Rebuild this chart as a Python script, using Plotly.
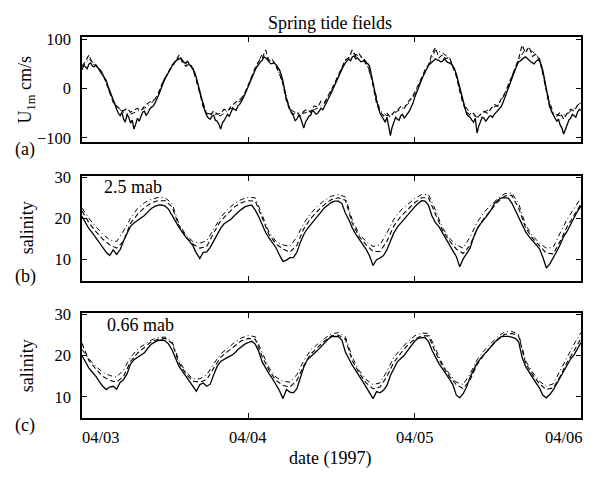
import pandas as pd
import plotly.graph_objects as go

# ---------------- data ----------------
START = pd.Timestamp("1997-04-03 00:00")
END = pd.Timestamp("1997-04-06 00:00")
U_SOLID_STEP_H = 0.25  # sampling of the solid velocity record (hours)
FINE_STEP_H = 0.5      # dashed velocity and solid salinity records
COARSE_STEP_H = 1.0    # the other records

TICK_DATES = ["1997-04-03", "1997-04-04", "1997-04-05", "1997-04-06"]
TICK_LABELS = ["04/03", "04/04", "04/05", "04/06"]

# (a) near-bed velocity U_1m, cm/s
U_SOLID = [38, 46, 44, 40, 50, 52, 45, 44, 48, 43, 38, 33, 28, 22, 16, 5, -5, -15, -25, -35,
           -42, -50, -55, -48, -62, -68, -52, -58, -70, -64, -82, -72, -60, -66, -55, -48, -46, -54, -50, -42,
           -38, -36, -30, -24, -15, -6, 5, 12, 20, 27, 33, 40, 46, 50, 56, 58, 60, 62, 57, 52,
           52, 55, 48, 46, 40, 33, 22, 8, -8, -22, -35, -46, -55, -60, -62, -56, -54, -64, -66, -72,
           -82, -70, -65, -58, -52, -56, -47, -40, -42, -44, -35, -32, -26, -20, -12, -4, 5, 14, 22, 30,
           38, 44, 50, 54, 57, 64, 62, 58, 56, 50, 51, 52, 48, 44, 38, 28, 15, -4, -22, -32,
           -42, -50, -55, -65, -62, -55, -58, -70, -80, -68, -62, -56, -54, -44, -47, -52, -50, -44, -40, -43,
           -36, -30, -25, -18, -8, 0, 8, 16, 24, 32, 40, 46, 52, 57, 60, 56, 64, 66, 60, 62,
           58, 54, 55, 58, 52, 50, 45, 30, 12, -6, -24, -38, -50, -56, -62, -68, -58, -74, -95, -78,
           -68, -58, -62, -64, -55, -52, -60, -54, -50, -45, -38, -30, -18, -8, 0, 9, 18, 26, 34, 41,
           47, 50, 54, 56, 60, 58, 57, 54, 55, 60, 57, 53, 52, 50, 46, 40, 30, 16, 2, -14,
           -30, -42, -52, -56, -58, -64, -68, -60, -90, -76, -66, -58, -60, -66, -62, -56, -55, -58, -52, -48,
           -46, -42, -36, -28, -18, -9, 0, 9, 18, 28, 38, 46, 54, 56, 60, 62, 64, 60, 57, 54,
           52, 50, 55, 58, 56, 48, 36, 18, -2, -20, -36, -46, -54, -60, -66, -62, -74, -80, -92, -82,
           -72, -64, -60, -52, -55, -58, -48, -42, -44]
U_DASH = [45, 55, 68, 50, 46, 40, 30, 12, -10, -28,
          -35, -42, -45, -40, -48, -44, -40, -45, -36, -30,
          -25, -22, -10, 8, 22, 36, 48, 55, 68, 52,
          45, 50, 38, 18, -12, -38, -50, -55, -45, -52,
          -50, -42, -46, -36, -30, -24, -20, -10, 8, 25,
          42, 55, 62, 78, 55, 58, 45, 30, 8, -25,
          -45, -52, -48, -55, -46, -42, -48, -35, -38, -25,
          -28, -15, 0, 12, 28, 45, 58, 62, 78, 65,
          70, 60, 50, 38, 5, -30, -48, -55, -50, -58,
          -48, -44, -36, -40, -28, -20, -8, 6, 22, 38,
          48, 70, 83, 62, 68, 60, 64, 44, 25, -5,
          -32, -48, -54, -50, -60, -52, -46, -50, -40, -32,
          -36, -20, -10, 6, 24, 42, 60, 88, 72, 85,
          65, 70, 58, 30, -8, -40, -52, -56, -48, -62,
          -50, -42, -46, -34, -30]
U_DASHDOT = [42, 60, 48, 32, -8, -38, -48, -52, -46, -40,
             -30, -12, 24, 45, 64, 50, 42, -10, -50, -52,
             -55, -45, -36, -22, 6, 40, 70, 58, 50, 10,
             -42, -50, -50, -45, -40, -30, -4, 26, 56, 72,
             66, 55, 10, -45, -55, -50, -42, -32, -12, 20,
             46, 78, 72, 62, 28, -30, -50, -58, -48, -40,
             -34, -12, 22, 58, 80, 75, 62, -5, -50, -55,
             -52, -40, -28]

# (b) salinity at 2.5 mab
SB_SOLID = [20.5, 19.0, 17.5, 16.5, 15.4, 14.2, 13.0, 11.8, 11.0, 12.4,
            11.3, 12.4, 14.6, 16.4, 18.1, 18.9, 19.5, 20.0, 20.7, 21.6,
            22.4, 22.9, 23.2, 23.3, 23.0, 22.2, 20.9, 19.3, 17.8, 16.5,
            15.4, 14.5, 13.4, 11.6, 10.3, 11.8, 11.9, 13.0, 14.6, 16.0,
            17.6, 18.7, 19.3, 19.8, 20.7, 21.5, 22.2, 22.8, 23.1, 23.2,
            22.0, 20.4, 18.5, 16.6, 15.2, 14.0, 12.9, 11.1, 9.6, 9.9,
            10.5, 10.5, 11.8, 14.2, 16.1, 17.5, 18.6, 19.6, 20.5, 21.6,
            22.6, 23.3, 23.9, 24.2, 24.2, 23.6, 21.3, 19.7, 17.7, 16.2,
            14.8, 13.7, 12.5, 10.9, 8.6, 10.0, 10.4, 11.0, 12.4, 14.5,
            16.5, 17.9, 18.9, 20.0, 21.0, 22.0, 22.8, 23.6, 24.3, 24.2,
            23.2, 20.6, 19.0, 18.0, 16.5, 14.9, 13.6, 12.2, 10.8, 8.3,
            10.2, 11.4, 12.8, 15.4, 17.4, 18.7, 19.7, 20.8, 22.0, 23.6,
            24.4, 25.0, 25.0, 24.9, 23.8, 22.0, 20.2, 18.7, 16.8, 15.6,
            14.6, 13.7, 12.7, 10.6, 8.0, 9.0, 10.4, 12.0, 13.7, 15.6,
            16.9, 18.5, 20.4, 21.8, 23.0]
SB_DASH = [21.8, 19.0, 16.8, 15.0, 13.6, 12.8, 14.5, 18.8, 21.0, 22.6,
           23.8, 24.3, 24.3, 22.8, 18.2, 15.6, 13.8, 12.8, 13.2, 16.5,
           19.4, 21.2, 22.8, 23.8, 24.3, 24.2, 20.0, 16.0, 13.8, 12.6,
           11.8, 13.5, 17.5, 20.0, 21.8, 23.4, 24.6, 25.0, 24.4, 18.8,
           15.6, 13.6, 12.0, 12.0, 14.5, 18.2, 20.5, 22.2, 23.8, 25.0,
           25.0, 21.0, 17.2, 14.6, 12.6, 11.5, 13.5, 17.5, 20.0, 22.0,
           24.0, 25.4, 25.6, 22.5, 17.8, 15.2, 13.4, 11.6, 11.4, 14.5,
           18.0, 20.6, 23.5]
SB_DASHDOT = [22.5, 20.0, 18.0, 16.2, 14.8, 14.4, 17.0, 20.0, 22.4, 23.8,
              24.6, 25.1, 25.0, 23.6, 18.6, 16.0, 14.4, 14.0, 14.6, 17.5,
              20.2, 22.2, 23.6, 24.6, 25.1, 25.0, 21.0, 16.6, 14.4, 13.6,
              13.2, 15.5, 18.8, 21.2, 23.0, 24.4, 25.4, 25.8, 25.2, 19.6,
              16.2, 14.4, 13.2, 13.6, 16.5, 19.8, 22.0, 23.5, 24.8, 25.8,
              25.8, 22.0, 17.8, 15.2, 13.6, 12.8, 15.5, 19.0, 21.5, 23.2,
              24.8, 26.0, 26.2, 23.6, 18.4, 15.8, 14.0, 12.8, 13.0, 16.5,
              19.8, 22.4, 25.0]

# (c) salinity at 0.66 mab
SC_SOLID = [20.0, 18.5, 17.0, 16.0, 15.0, 13.7, 12.6, 11.8, 12.4, 12.6,
            11.9, 13.5, 14.2, 15.6, 18.0, 19.0, 19.5, 20.0, 20.7, 21.8,
            22.8, 23.3, 23.7, 23.8, 23.6, 22.8, 21.4, 19.4, 17.4, 16.2,
            15.0, 13.7, 12.5, 11.4, 13.0, 13.4, 12.6, 13.1, 15.4, 17.4,
            18.6, 19.2, 19.6, 20.0, 20.6, 21.5, 22.2, 22.8, 23.2, 23.5,
            22.8, 21.0, 18.5, 17.0, 15.6, 14.4, 13.1, 11.5, 9.6, 11.8,
            11.2, 11.0, 12.0, 14.4, 17.2, 19.0, 19.7, 20.5, 21.3, 22.2,
            23.2, 24.0, 24.6, 24.7, 24.6, 23.8, 20.9, 19.2, 17.7, 16.4,
            15.2, 13.8, 12.4, 10.9, 9.6, 11.3, 11.0, 11.6, 12.8, 15.2,
            17.0, 18.5, 19.3, 20.1, 21.3, 22.5, 23.5, 24.2, 24.4, 24.4,
            23.4, 21.3, 19.5, 18.1, 16.9, 15.8, 14.4, 13.0, 10.5, 9.8,
            10.8, 12.5, 14.8, 16.5, 18.2, 19.3, 20.2, 21.1, 22.2, 23.2,
            24.0, 24.6, 24.7, 24.7, 24.5, 24.2, 23.4, 19.6, 17.4, 16.0,
            14.6, 13.4, 12.2, 10.4, 9.8, 10.6, 11.7, 13.2, 14.8, 16.4,
            17.9, 19.2, 20.2, 21.7, 23.2]
SC_DASH = [23.0, 18.8, 16.8, 15.0, 14.0, 13.6, 15.0, 18.6, 20.6, 22.0,
           23.4, 24.0, 24.2, 23.0, 18.2, 15.6, 13.8, 13.6, 14.2, 17.0,
           19.6, 21.0, 22.4, 23.6, 24.2, 24.0, 19.8, 16.4, 14.0, 12.8,
           12.4, 14.0, 17.6, 20.4, 22.0, 23.6, 24.8, 25.0, 24.0, 18.8,
           15.8, 13.4, 12.0, 12.4, 15.0, 18.4, 20.6, 22.6, 24.0, 24.8,
           24.8, 20.8, 17.6, 15.0, 13.0, 12.0, 14.2, 17.8, 20.2, 22.2,
           24.0, 25.2, 25.4, 24.8, 18.2, 15.4, 13.2, 11.8, 12.2, 15.0,
           18.4, 21.2, 24.2]
SC_DASHDOT = [21.5, 19.2, 17.4, 16.0, 15.2, 14.8, 16.6, 19.6, 21.6, 22.8,
              23.8, 24.4, 24.5, 23.4, 18.8, 16.0, 14.4, 14.4, 15.4, 18.0,
              20.4, 21.8, 23.2, 24.3, 24.9, 24.6, 20.6, 17.0, 14.8, 13.8,
              13.6, 15.4, 18.8, 21.4, 22.8, 24.2, 25.3, 25.6, 24.6, 19.6,
              16.4, 14.2, 13.0, 13.4, 16.2, 19.6, 21.6, 23.4, 24.8, 25.5,
              25.4, 21.6, 18.0, 15.6, 13.6, 13.0, 15.6, 19.0, 21.2, 23.0,
              24.6, 25.8, 25.9, 25.2, 18.8, 16.0, 13.8, 12.6, 13.2, 16.4,
              19.8, 22.8, 25.6]


def times(n, step_h):
    return START + pd.to_timedelta([i * step_h for i in range(n)], unit="h")


# ---------------- figure ----------------
W, H = 596, 477
SERIF = "Liberation Serif, Times New Roman, serif"
BLACK = "#000000"

fig = go.Figure()

panels = [
    ("x", "y", [(U_SOLID, U_SOLID_STEP_H), (U_DASH, FINE_STEP_H), (U_DASHDOT, COARSE_STEP_H)]),
    ("x2", "y2", [(SB_SOLID, FINE_STEP_H), (SB_DASH, COARSE_STEP_H), (SB_DASHDOT, COARSE_STEP_H)]),
    ("x3", "y3", [(SC_SOLID, FINE_STEP_H), (SC_DASH, COARSE_STEP_H), (SC_DASHDOT, COARSE_STEP_H)]),
]
styles = [dict(dash="solid", width=1.3),
          dict(dash="5px,3px", width=1.1),
          dict(dash="5px,3px,1px,3px", width=1.0)]

for xa, ya, series in panels:
    for (vals, step), st in zip(series, styles):
        fig.add_trace(go.Scatter(
            x=times(len(vals), step), y=vals, mode="lines",
            line=dict(color=BLACK, dash=st["dash"], width=st["width"]),
            xaxis=xa, yaxis=ya, showlegend=False, hoverinfo="skip"))


def px_x(p):
    return p / W


def px_y(p):
    return 1 - p / H


XL, XR = 82, 581
boxes = {"a": (30, 138), "b": (173, 281), "c": (314, 422)}

xcommon = dict(type="date", range=[START, END], tickvals=TICK_DATES, showticklabels=False,
               ticks="inside", ticklen=5, tickwidth=1, tickcolor=BLACK,
               showline=True, linecolor=BLACK, linewidth=1.5, mirror="allticks",
               showgrid=False, zeroline=False, domain=[px_x(XL), px_x(XR)])
ycommon = dict(ticks="inside", ticklen=5, tickwidth=1, tickcolor=BLACK,
               showline=True, linecolor=BLACK, linewidth=1.5, mirror="allticks",
               showgrid=False, zeroline=False, ticklabelstandoff=6,
               tickfont=dict(family=SERIF, size=16.5, color=BLACK))

fig.update_layout(
    width=W, height=H, margin=dict(l=0, r=0, t=0, b=0),
    paper_bgcolor="white", plot_bgcolor="white",
    xaxis=dict(xcommon, anchor="y"),
    xaxis2=dict(xcommon, anchor="y2", matches="x"),
    xaxis3=dict(xcommon, anchor="y3", matches="x"),
    yaxis=dict(ycommon, anchor="x", range=[-108, 104], tickvals=[-100, 0, 100],
               domain=[px_y(boxes["a"][1]), px_y(boxes["a"][0])]),
    yaxis2=dict(ycommon, anchor="x2", range=[4.9, 30.3], tickvals=[10, 20, 30],
                domain=[px_y(boxes["b"][1]), px_y(boxes["b"][0])]),
    yaxis3=dict(ycommon, anchor="x3", range=[5.0, 30.4], tickvals=[10, 20, 30],
                domain=[px_y(boxes["c"][1]), px_y(boxes["c"][0])]),
)

LBL = dict(family=SERIF, size=18, color=BLACK)
ann = []
# x tick labels under the bottom panel
for i, (d, lab) in enumerate(zip(TICK_DATES, TICK_LABELS)):
    if i == 0:
        anchor, shift = "left", -2
    elif i == len(TICK_DATES) - 1:
        anchor, shift = "right", 4
    else:
        anchor, shift = "center", 0
    ann.append(dict(x=d, y=px_y(431), xref="x3", yref="paper", text=lab, showarrow=False,
                    xanchor=anchor, yanchor="top", xshift=shift,
                    font=dict(family=SERIF, size=16.5, color=BLACK)))

ann += [
    dict(x=px_x(330), y=px_y(15), text="Spring tide fields"),
    dict(x=px_x(330), y=px_y(464), text="date (1997)"),
    dict(x=px_x(27), y=px_y(84), text="U<sub>1m</sub> cm/s", textangle=-90),
    dict(x=px_x(27), y=px_y(227), text="salinity", textangle=-90),
    dict(x=px_x(27), y=px_y(369), text="salinity", textangle=-90),
    dict(x=px_x(25), y=px_y(146), text="(a)"),
    dict(x=px_x(25), y=px_y(277), text="(b)"),
    dict(x=px_x(25), y=px_y(430), text="(c)"),
    dict(x=px_x(102), y=px_y(184), text="2.5 mab", xanchor="left"),
    dict(x=px_x(105), y=px_y(327), text="0.66 mab", xanchor="left"),
]
for a in ann[len(TICK_DATES):]:
    a.setdefault("xanchor", "center")
    a.update(xref="paper", yref="paper", yanchor="middle", showarrow=False, font=LBL)

fig.update_layout(annotations=ann)
fig.write_html("out.html", config={"displayModeBar": False},
               post_script="document.body.style.margin='0';document.body.style.overflow='hidden';")
